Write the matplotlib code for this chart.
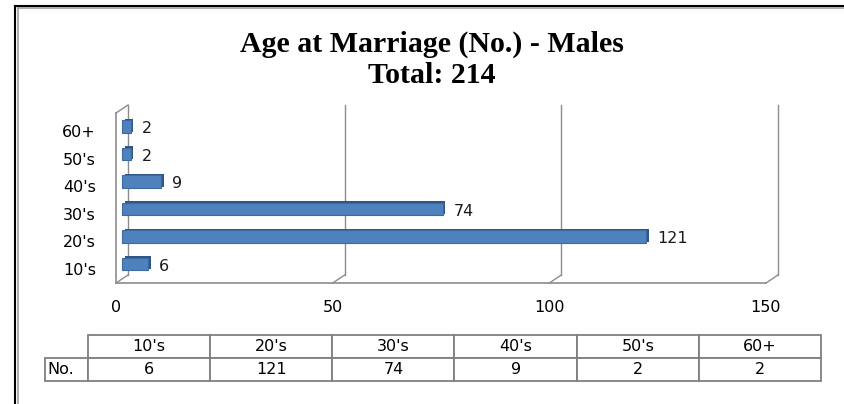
import matplotlib
matplotlib.use('Agg')
from matplotlib import pyplot as plt
from matplotlib.lines import Line2D
from matplotlib.table import Table
import matplotlib.transforms as mtransforms

# chart data
categories = ["10's", "20's", "30's", "40's", "50's", "60+"]
counts = [6, 121, 74, 9, 2, 2]
x_ticks = [0, 50, 100, 150]
row_label = 'No.'
title = 'Age at Marriage (No.) - Males\nTotal: 214'

W, H = 845, 404
fig = plt.figure(figsize=(W / 100, H / 100), dpi=100)
fig.patch.set_facecolor('white')
plt.rcParams['font.family'] = ['DejaVu Sans']


def fx(px):
    return px / W


def fy(py):
    return 1 - py / H


def fline(xs, ys, **kw):
    fig.add_artist(Line2D([fx(v) for v in xs], [fy(v) for v in ys],
                          transform=fig.transFigure, **kw))


# outer frame (black + gray inner line on left/top)
fline([15.5, 15.5], [5.5, 404], color='black', lw=1.5)
fline([15.5, 845], [5.5, 5.5], color='black', lw=1.5)
fline([18, 18], [7.5, 404], color='#a0a0a0', lw=1.2)
fline([18, 845], [7.5, 7.5], color='#a0a0a0', lw=1.2)

fig.text(fx(432), fy(60), title, ha='center', va='center', fontsize=21.5,
         fontweight='bold', family='Liberation Serif', linespacing=1.2)

# main plot area (front plane)
ax = fig.add_axes([fx(116), fy(283), fx(766) - fx(116), (283 - 113) / H])
ax.set_xlim(0, 150)
ax.set_ylim(-0.51, 5.67)
for s in ax.spines.values():
    s.set_visible(False)
ax.patch.set_alpha(0)

# back wall / mid-depth offsets (3D effect)
dx, dy = 12, 8
back = mtransforms.offset_copy(ax.transData, fig=fig, x=dx * 0.72, y=dy * 0.72,
                               units='points')
mid = mtransforms.offset_copy(ax.transData, fig=fig, x=dx * 0.36, y=dy * 0.45,
                              units='points')
side = mtransforms.offset_copy(ax.transData, fig=fig, x=dx * 0.36 + 2.0,
                               y=dy * 0.45 + 0.9, units='points')
wall_col = '#8c8c8c'
y0, y1 = ax.get_ylim()
for xv in x_ticks:
    ax.plot([xv, xv], [y0, y1], color=wall_col, lw=1.0, transform=back,
            clip_on=False)
    p0 = back.transform((xv, y0))
    p1 = ax.transData.transform((xv, y0))
    fline([p0[0], p1[0]], [H - p0[1], H - p1[1]], color=wall_col, lw=1.0)
# floor front edge and left wall front edge
ax.plot([0, 150], [y0, y0], color=wall_col, lw=1.2, clip_on=False)
ax.plot([0, 0], [y0, y1], color=wall_col, lw=1.2, clip_on=False)
p0 = back.transform((0, y1))
p1 = ax.transData.transform((0, y1))
fline([p0[0], p1[0]], [H - p0[1], H - p1[1]], color=wall_col, lw=1.0)

ypos = list(range(len(categories)))
# dark side/top face, then front face
ax.barh(ypos, counts, height=0.46, color='#2f5689', transform=side, zorder=3)
ax.barh(ypos, counts, height=0.46, color='#4f81bd', edgecolor='#3c6aa3',
        linewidth=0.8, transform=mid, zorder=4)

for y, c in zip(ypos, counts):
    ax.annotate(str(c), (c, y), xycoords=mid, xytext=(8, -1.5),
                textcoords='offset points', ha='left', va='center',
                fontsize=11.5, color='#1a1a1a')

ax.set_yticks(ypos)
ax.set_yticklabels(categories, fontsize=11.5)
ax.set_xticks(x_ticks)
ax.set_xticklabels([str(t) for t in x_ticks], fontsize=11.5)
ax.tick_params(length=0)
ax.tick_params(axis='y', pad=14.5)
ax.tick_params(axis='x', pad=12)

# data table
tax = fig.add_axes([fx(45), fy(381), fx(821) - fx(45), (381 - 335) / H])
tax.axis('off')
tbl = Table(tax, bbox=[0, 0, 1, 1])
lab_w = 43 / 776
col_w = (1 - lab_w) / len(categories)
edge = '#7f7f7f'
for j, cat in enumerate(categories):
    for r, txt in ((0, cat), (1, str(counts[j]))):
        c = tbl.add_cell(r, j + 1, width=col_w, height=0.5, text=txt,
                         loc='center')
        c.set_edgecolor(edge)
        c.set_linewidth(1.3)
c = tbl.add_cell(1, 0, width=lab_w, height=0.5, text=row_label, loc='left')
c.set_edgecolor(edge)
c.set_linewidth(1.3)
c.PAD = 0.05
tbl.auto_set_font_size(False)
tbl.set_fontsize(11.5)
tax.add_table(tbl)

fig.savefig('out.png', dpi=100, facecolor='white')
